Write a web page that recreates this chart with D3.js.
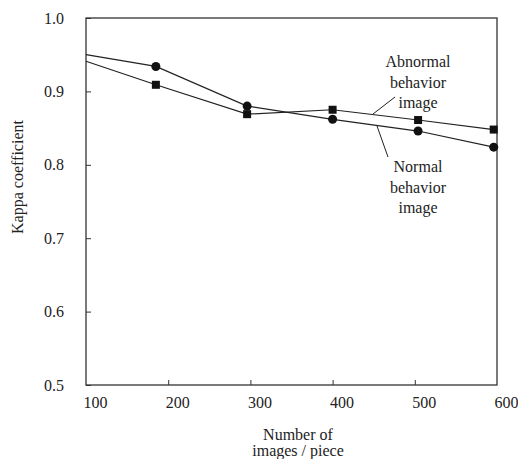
<!DOCTYPE html>
<html>
<head>
<meta charset="utf-8">
<script src="https://cdn.jsdelivr.net/npm/d3@7"></script>
<style>
  body { margin: 0; background: #fff; }
  svg text { font-family: "Liberation Serif", "DejaVu Serif", serif; fill: #222; }
</style>
</head>
<body>
<div id="chart"></div>
<script>
let wSvg = 518; let hSvg = 459;
let padLeft = 86, padRight = 497, padTop = 18, padBottom = 385;

// data
const xTicks = [100, 200, 300, 400, 500, 600];
const yTicks = [0.5, 0.6, 0.7, 0.8, 0.9, 1.0];
const xNormal = [100, 185, 296, 400, 504, 596];
const normal = [0.950, 0.934, 0.880, 0.862, 0.846, 0.824];
const xAbnormal = [100, 185, 296, 400, 504, 596];
const abnormal = [0.941, 0.909, 0.869, 0.875, 0.861, 0.848];

const svg = d3.select("#chart")
    .append("svg")
    .attr("width", wSvg)
    .attr("height", hSvg);

const xScale = d3.scaleLinear().domain([100, 600]).range([padLeft, padRight]);
const yScale = d3.scaleLinear().domain([0.5, 1.0]).range([padBottom, padTop]);

// frame
svg.append("rect")
    .attr("x", padLeft).attr("y", padTop)
    .attr("width", padRight - padLeft).attr("height", padBottom - padTop)
    .attr("fill", "none")
    .attr("stroke", "#333")
    .attr("stroke-width", 1.3);

// y axis
const axisLeft = d3.axisLeft(yScale)
    .tickValues(yTicks)
    .tickSize(-5)
    .tickPadding(22)
    .tickFormat(d3.format(".1f"));
const gy = svg.append("g")
    .attr("transform", `translate(${padLeft},0)`)
    .call(axisLeft);
gy.select(".domain").remove();
gy.selectAll("line").attr("stroke", "#333");
gy.selectAll("text").style("font-size", "16px").style("font-family", "Liberation Serif").attr("fill", "#222");

// x axis
const axisBottom = d3.axisBottom(xScale)
    .tickValues(xTicks)
    .tickSize(-5)
    .tickPadding(12);
const gx = svg.append("g")
    .attr("transform", `translate(0,${padBottom})`)
    .call(axisBottom);
gx.select(".domain").remove();
gx.selectAll("line").attr("stroke", "#333");
gx.selectAll(".tick").filter(d => d === 100 || d === 600).select("line").remove();
gx.selectAll("text")
    .attr("dx", 9)
    .style("font-size", "16px").style("font-family", "Liberation Serif").attr("fill", "#222");

// lines
const line = d3.line()
    .x(d => xScale(d[0]))
    .y(d => yScale(d[1]));

const normalPts = xNormal.map((x, i) => [x, normal[i]]);
const abnormalPts = xAbnormal.map((x, i) => [x, abnormal[i]]);

svg.append("path").datum(normalPts)
    .attr("fill", "none").attr("stroke", "#222").attr("stroke-width", 1.2)
    .attr("d", line);
svg.append("path").datum(abnormalPts)
    .attr("fill", "none").attr("stroke", "#222").attr("stroke-width", 1.2)
    .attr("d", line);

svg.append("g").selectAll("circle")
    .data(normalPts.slice(1))
    .enter().append("circle")
    .attr("cx", d => xScale(d[0]))
    .attr("cy", d => yScale(d[1]))
    .attr("r", 4.5)
    .attr("fill", "#111");

svg.append("g").selectAll("rect")
    .data(abnormalPts.slice(1))
    .enter().append("rect")
    .attr("x", d => xScale(d[0]) - 4)
    .attr("y", d => yScale(d[1]) - 4)
    .attr("width", 8).attr("height", 8)
    .attr("fill", "#111");

// annotations
function block(lines, cx, y0) {
    svg.append("g").selectAll("text")
        .data(lines)
        .enter().append("text")
        .attr("x", cx)
        .attr("y", (d, i) => y0 + i * 20.5)
        .attr("text-anchor", "middle")
        .style("font-size", "16px")
        .text(d => d);
}
block(["Abnormal", "behavior", "image"], 418, 67);
block(["Normal", "behavior", "image"], 418, 172);

svg.append("line")
    .attr("x1", 395).attr("y1", 97).attr("x2", 373).attr("y2", 114)
    .attr("stroke", "#222").attr("stroke-width", 1);
svg.append("line")
    .attr("x1", 388).attr("y1", 157).attr("x2", 377).attr("y2", 126)
    .attr("stroke", "#222").attr("stroke-width", 1);

// axis titles
svg.append("text")
    .attr("transform", `translate(23,177) rotate(-90)`)
    .attr("text-anchor", "middle")
    .style("font-size", "16px")
    .text("Kappa coefficient");

svg.append("text")
    .attr("x", 298).attr("y", 440)
    .attr("text-anchor", "middle")
    .style("font-size", "16px")
    .text("Number of");
svg.append("text")
    .attr("x", 298).attr("y", 456)
    .attr("text-anchor", "middle")
    .style("font-size", "16px")
    .text("images / piece");
</script>
</body>
</html>
